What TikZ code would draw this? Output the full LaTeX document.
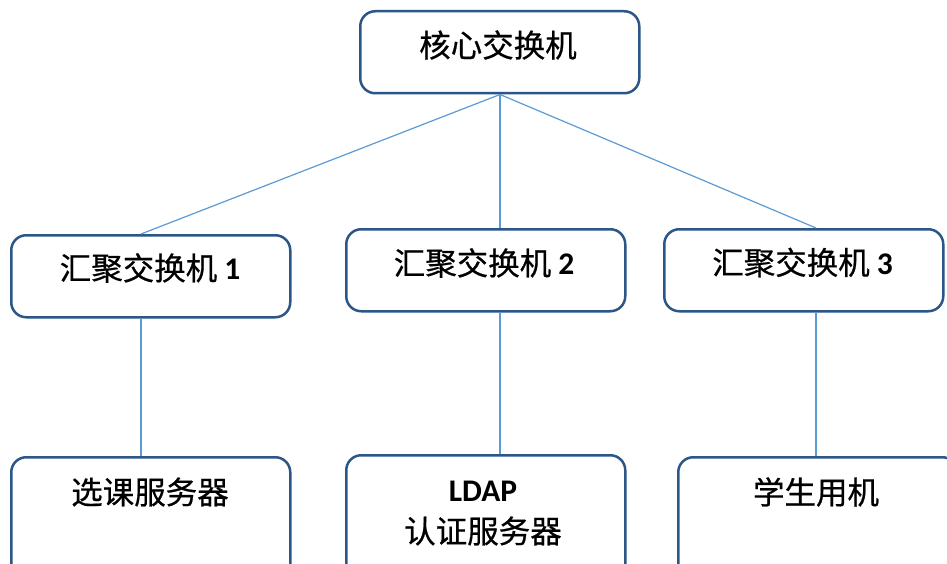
\documentclass[tikz,border=0pt]{standalone}
\usepackage{fontspec}
\setmainfont{Carlito}
\newfontfamily\cjk[FakeBold=0.6]{Noto Sans CJK SC}
\definecolor{boxblue}{HTML}{2B5687}
\definecolor{lineblue}{HTML}{5B9BD5}
\begin{document}
\begin{tikzpicture}[x=1pt,y=-1pt,
  box/.style={draw=boxblue,line width=2.5pt,rounded corners=15pt,fill=white,
    minimum width=279pt,minimum height=82pt,inner sep=0pt,anchor=north west},
  tallbox/.style={box,minimum height=130pt},
  lbl/.style={font=\fontsize{31.5}{36}\selectfont\cjk,inner sep=0pt,align=center},
  conn/.style={draw=lineblue,line width=1.2pt}]
\useasboundingbox (0,0) rectangle (947,564);
\clip (0,0) rectangle (947,564);
\fill[white] (0,0) rectangle (947,564);
% boxes
\node[box] (core) at (359,10) {};
\node[box] (agg1) at (10,234) {};
\node[box] (agg2) at (345,228) {};
\node[box] (agg3) at (663,228) {};
\node[tallbox] (srv1) at (10,456) {};
\node[tallbox] (srv2) at (345,454) {};
\node[tallbox] (srv3) at (677,456) {};
% connection points
\coordinate (cc) at (500,0);
\coordinate (c1) at (141,0);
\coordinate (c2) at (500,0);
\coordinate (c3) at (816,0);
% connectors
\draw[conn] (core.south -| cc) -- (agg1.north -| c1);
\draw[conn] (core.south -| cc) -- (agg2.north -| c2);
\draw[conn] (core.south -| cc) -- (agg3.north -| c3);
\draw[conn] (agg1.south -| c1) -- (srv1.north -| c1);
\draw[conn] (agg2.south -| c2) -- (srv2.north -| c2);
\draw[conn] (agg3.south -| c3) -- (srv3.north -| c3);
% labels
\node[lbl] (tcore) at (498,45) {核心交换机};
\node[lbl] (t1) at (150,268) {汇聚交换机 {\rmfamily\bfseries 1}};
\node[lbl] (t2) at (484,263) {汇聚交换机 {\rmfamily\bfseries 2}};
\node[lbl] (t3) at (802.5,262.5) {汇聚交换机 {\rmfamily\bfseries 3}};
\node[lbl] (ts1) at (150,492) {选课服务器};
\node[lbl,font=\fontsize{31.5}{36}\selectfont\rmfamily\bfseries] (ts2a) at (483,491) {LDAP};
\node[lbl] (ts2b) at (483,531) {认证服务器};
\node[lbl] (ts3) at (816,492) {学生用机};
\end{tikzpicture}
\end{document}
